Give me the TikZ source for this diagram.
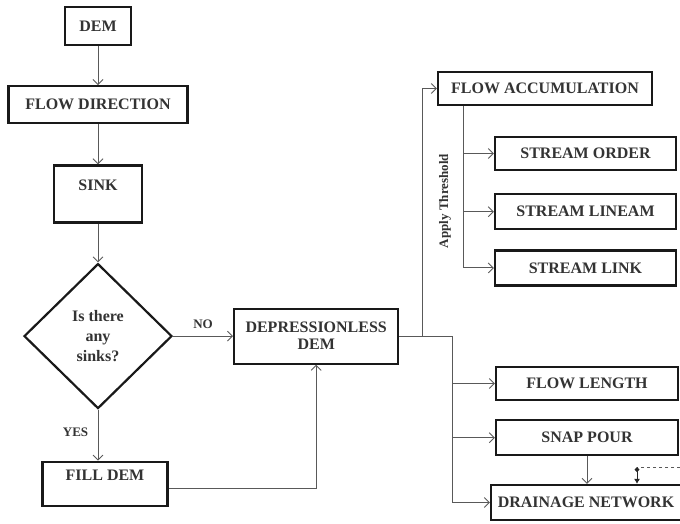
\documentclass[tikz,border=0pt]{standalone}
\usepackage{fontspec}
\setmainfont{Liberation Serif}
\usetikzlibrary{arrows.meta, positioning, shapes.geometric}

\begin{document}
\begin{tikzpicture}[
    x=1pt, y=-1pt,
    node distance=39pt and 60pt,
    box/.style={rectangle, draw=black!90, line width=2.2pt, fill=white, inner sep=2pt, align=center, text=black!80, font=\fontsize{16}{17}\selectfont\bfseries},
    decision/.style={diamond, draw=black!90, line width=2.2pt, fill=white, inner sep=0pt, align=center, text=black!80, minimum width=148pt, minimum height=145pt, font=\fontsize{16}{20}\selectfont\bfseries},
    lbl/.style={text=black!80, font=\fontsize{13}{15}\selectfont\bfseries},
    arr/.style={-{Straight Barb[length=5pt, width=10pt]}, line width=0.9pt, draw=black!65},
    line/.style={line width=0.9pt, draw=black!65},
]
    \useasboundingbox (0,0) rectangle (680,523);

    % left column
    \node[box, minimum width=66pt, minimum height=38pt] (dem) at (98,26) {DEM};
    \node[box, minimum width=179pt, minimum height=37pt, below=39pt of dem] (fdir) {FLOW DIRECTION};
    \node[box, minimum width=88pt, minimum height=57pt, below=40pt of fdir] (sink) {SINK\\\mbox{}};
    \node[decision, below=39pt of sink] (ask) {Is there\\any\\sinks?};
    \node[box, minimum width=125pt, minimum height=44pt, below=51pt of ask, xshift=7pt] (fill) {FILL DEM\\\mbox{}};
    \node[box, minimum width=164pt, minimum height=55pt, right=60pt of ask] (dep) {DEPRESSIONLESS\\DEM};

    % right column
    \node[box, minimum width=214pt, minimum height=33pt] (facc) at (545,88.5) {FLOW ACCUMULATION};
    \node[box, minimum width=181pt, minimum height=33pt] (sord) at (585.5,153.5) {STREAM ORDER};
    \node[box, minimum width=181pt, minimum height=35pt, below=22pt of sord] (slin) {STREAM LINEAM};
    \node[box, minimum width=181pt, minimum height=35pt, below=19pt of slin] (slink) {STREAM LINK};
    \node[box, minimum width=182pt, minimum height=33pt] (flen) at (587,383.5) {FLOW LENGTH};
    \node[box, minimum width=182pt, minimum height=35pt, below=18pt of flen] (snap) {SNAP POUR};
    \node[box, minimum width=190pt, minimum height=35pt] (drain) at (586,502.5) {DRAINAGE NETWORK};
    \node[lbl, rotate=90] (thr) at (445,201) {Apply Threshold};

    \coordinate (jdep) at ([xshift=23pt]dep.east);
    \coordinate (jout) at ([xshift=53pt]dep.east);
    \coordinate (jth) at ([xshift=-82pt]facc.south);
    \coordinate (jdash) at (637,467);
    \coordinate (edge) at (680,467);

    % main flow
    \draw[arr] (dem) -- (fdir);
    \draw[arr] (fdir) -- (sink);
    \draw[arr] (sink) -- (ask);
    \draw[arr] (ask.south) -- (ask.south |- fill.north) node[lbl, pos=0.45, left=6pt] {YES};
    \draw[arr] (ask) -- (dep) node[lbl, midway, above=4pt] {NO};
    \draw[arr] ([yshift=-5pt]fill.east) -| (dep.south);

    % outputs
    \draw[line] (dep.east) -- (jout);
    \draw[arr] (jdep) |- (facc.west);
    \draw[arr] (jout) |- (flen.west);
    \draw[arr] (jout) |- (snap.west);
    \draw[arr] (jout) |- (drain.west);
    \draw[arr] (jth) |- (sord.west);
    \draw[arr] (jth) |- (slin.west);
    \draw[arr] (jth) |- (slink.west);
    \draw[arr] (snap.south) -- (snap.south |- drain.north);
    \draw[line, dashed] (edge) -- (jdash);
    \draw[{Diamond[length=5pt, width=5pt]}-{Latex[length=5pt, width=6pt]}, line width=0.9pt, draw=black!85] (jdash) -- (jdash |- drain.north);
\end{tikzpicture}
\end{document}
